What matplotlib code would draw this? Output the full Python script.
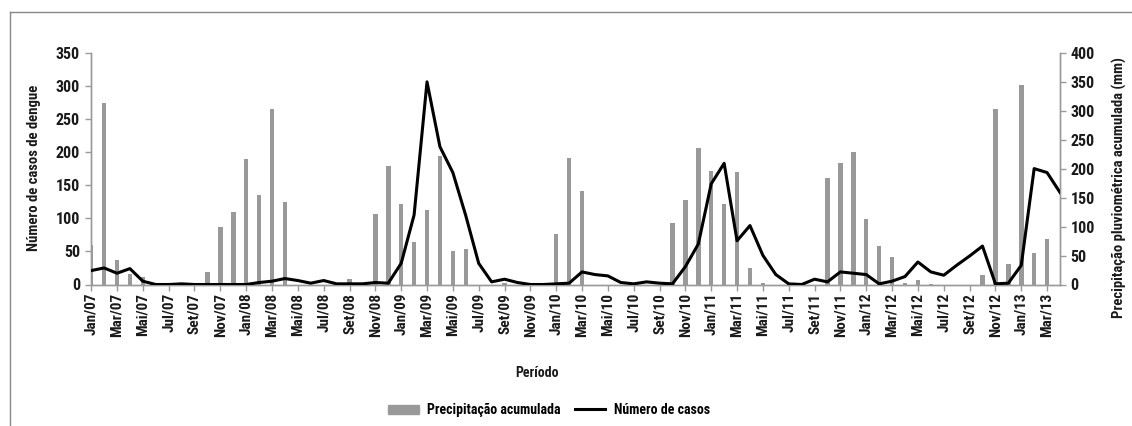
import matplotlib
matplotlib.use("Agg")
import matplotlib.pyplot as plt
from matplotlib.lines import Line2D
from matplotlib.patches import Patch
import numpy as np

plt.rcParams['font.family'] = ['Roboto Condensed', 'DejaVu Sans']
plt.rcParams['font.stretch'] = 'condensed'
plt.rcParams['font.weight'] = 'bold'

month_names = ['Jan', 'Fev', 'Mar', 'Abr', 'Mai', 'Jun', 'Jul', 'Ago', 'Set', 'Out', 'Nov', 'Dez']
years = ['07', '08', '09', '10', '11', '12', '13']
periods = [f"{m}/{y}" for y in years for m in month_names][:76]

rain = [69, 314, 42, 18, 13, 0, 0, 0, 0, 22, 99, 125,
        217, 154, 302, 142, 0, 0, 0, 0, 10, 0, 122, 205,
        139, 74, 128, 222, 58, 61, 0, 0, 2, 0, 0, 0,
        88, 218, 162, 0, 0, 0, 0, 0, 0, 106, 146, 236,
        195, 139, 194, 28, 3, 0, 0, 0, 0, 183, 209, 228,
        113, 66, 47, 3, 7, 1, 0, 0, 0, 16, 302, 35,
        345, 55, 79, 0]

cases = [21, 25, 17, 24, 5, 0, 0, 1, 0, 0, 0, 0,
         0, 3, 5, 9, 6, 2, 6, 1, 1, 1, 3, 2,
         32, 105, 306, 208, 169, 104, 32, 4, 8, 3, 0, 0,
         1, 2, 19, 15, 13, 3, 1, 4, 2, 1, 27, 61,
         152, 183, 66, 89, 44, 15, 1, 0, 8, 4, 19, 17,
         15, 1, 5, 12, 34, 19, 14, 29, 43, 58, 1, 2,
         29, 175, 169, 139]

x = np.arange(len(periods))
bar_color = '#999999'
axis_color = '#9a9a9a'
text_color = '#1a1a1a'

fig = plt.figure(figsize=(11.32, 4.26), dpi=100)
ax = fig.add_axes([90.5/1132, 1-284.5/426, (1060-90.5)/1132, (284.5-52.7)/426])
ax2 = ax.twinx()

ax2.bar(x, rain, width=0.35, color=bar_color, zorder=1)
ax.plot(x, cases, color='black', lw=2.2, zorder=3)
ax.set_zorder(ax2.get_zorder() + 1)
ax.patch.set_visible(False)

ax.set_xlim(-0.05, 75)
ax.set_ylim(0, 350)
ax2.set_ylim(0, 400)
ax.set_yticks(range(0, 351, 50))
ax2.set_yticks(range(0, 401, 50))
ax.set_xticks(x[::2])
ax.set_xticklabels(periods[::2], rotation=90)

for a in (ax, ax2):
    a.spines['top'].set_visible(False)
    for s in ('left', 'right', 'bottom'):
        a.spines[s].set_color(axis_color)
        a.spines[s].set_linewidth(1)
    a.tick_params(axis='both', colors=axis_color, length=4, width=1, labelsize=11.5)
    for lbl in a.get_yticklabels() + a.get_xticklabels():
        lbl.set_color(text_color)
        lbl.set_fontweight('bold')
ax.tick_params(axis='x', labelsize=11, pad=2)

fig.text(34/1132, 1-167.5/426, 'Número de casos de dengue', rotation=90, ha='center', va='center',
         fontsize=10.6, fontweight='bold', color=text_color)
fig.text(1119/1132, 1-187.5/426, 'Precipitação pluviométrica acumulada (mm)', rotation=90, ha='center', va='center',
         fontsize=10.6, fontweight='bold', color=text_color)

fig.text(537/1132, 1-373/426, 'Período', ha='center', va='center', fontsize=10, fontweight='bold', color=text_color)

handles = [Patch(color=bar_color), Line2D([0], [0], color='black', lw=2.2)]
labels = ['Precipitação acumulada', 'Número de casos']
fig.legend(handles, labels, loc='center', bbox_to_anchor=(549/1132, 1-410/426), ncol=2, frameon=False,
           handlelength=2.2, handleheight=0.6, columnspacing=1.0, handletextpad=0.6,
           prop={'weight': 'bold', 'size': 10, 'stretch': 'condensed'})

# outer frame (top and left edges visible)
fig.add_artist(Line2D([10/1132, 1.0], [1-12/426, 1-12/426], transform=fig.transFigure, color='#888888', lw=1))
fig.add_artist(Line2D([10/1132, 10/1132], [1-12/426, 0.0], transform=fig.transFigure, color='#888888', lw=1))

fig.savefig('out.png', dpi=100)
